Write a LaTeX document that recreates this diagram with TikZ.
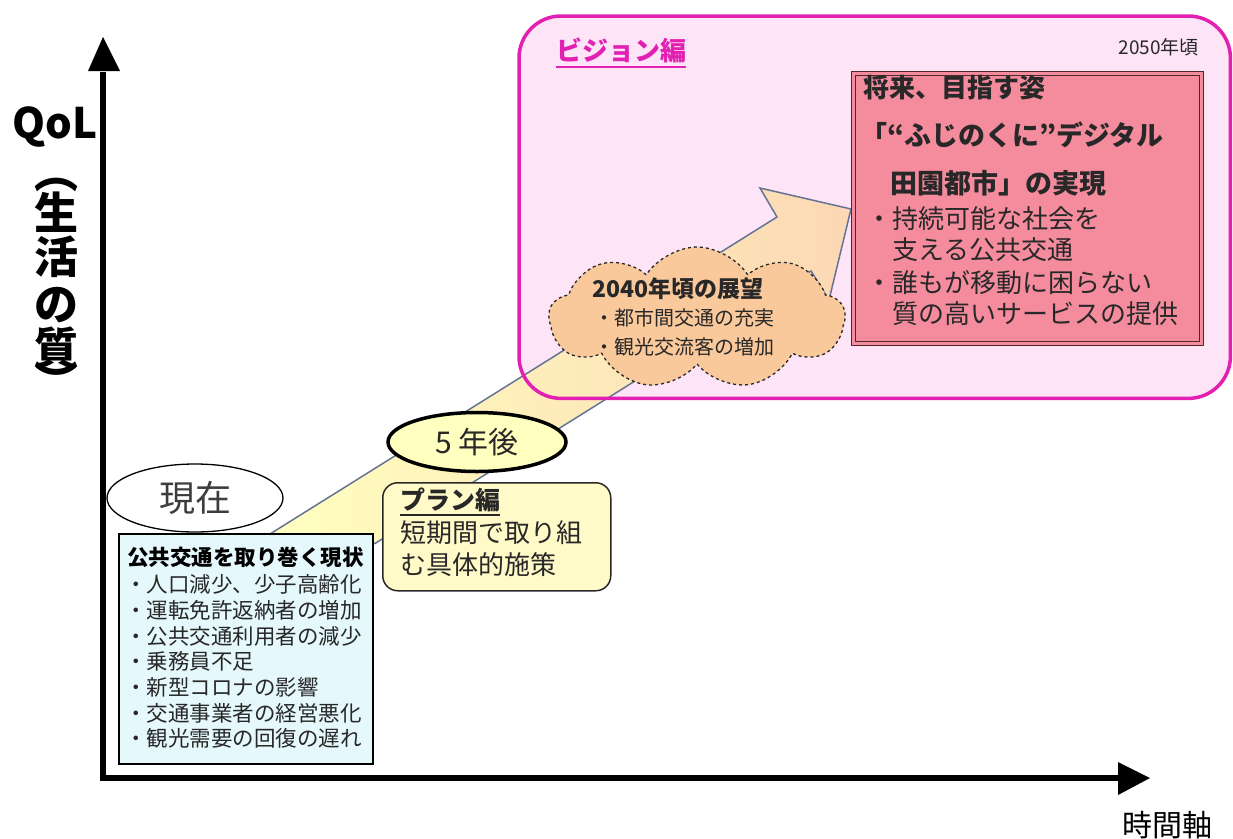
\documentclass[tikz,border=0pt]{standalone}
\usepackage{fontspec}
\setmainfont{Noto Sans CJK JP}
\usetikzlibrary{shapes.symbols,shapes.geometric}
\definecolor{magentaB}{RGB}{226,32,178}
\definecolor{visfill}{RGB}{253,229,247}
\definecolor{redfill}{RGB}{244,140,158}
\definecolor{redline}{RGB}{80,40,45}
\definecolor{bluefill}{RGB}{229,248,252}
\definecolor{planfill}{RGB}{255,250,200}
\definecolor{cloudfill}{RGB}{250,201,155}
\definecolor{bandlow}{RGB}{255,255,192}
\definecolor{bandhigh}{RGB}{252,216,180}
\definecolor{bandline}{RGB}{100,115,150}
\definecolor{txtgray}{RGB}{40,40,40}
\newcommand\fsz[1]{\fontsize{#1}{#1}\selectfont}
\tikzset{
  lbl/.style={anchor=west, inner sep=0pt, text=txtgray},
  vchar/.style={inner sep=0pt, font=\bfseries\fsz{44}},
}
\begin{document}
\begin{tikzpicture}[x=1pt,y=-1pt]
\useasboundingbox (0,0) rectangle (1233,838);

% vision area
\node[fill=visfill, rounded corners=42pt, minimum width=711pt, minimum height=382pt,
      anchor=north west, inner sep=0pt] (vis) at (519,16) {};

% big arrow band
\coordinate (bLL) at (270,534);
\coordinate (bLR) at (375,543.5);
\coordinate (nU) at (777,217);
\coordinate (barbU) at (760,188);
\coordinate (tip) at (851,209);
\coordinate (barbL) at (829,300);
\coordinate (nL) at (811,271);
\shadedraw[left color=bandlow, right color=bandhigh, draw=bandline, line width=1.5pt]
  (bLL) -- (nU) -- (barbU) -- (tip) -- (barbL) -- (nL) -- (bLR) -- cycle;

\draw[magentaB, line width=3.5pt, rounded corners=42pt] (vis.north west) rectangle (vis.south east);

\node[lbl, font=\bfseries\fsz{26}, text=magentaB] (vtitle) at (556,50) {ビジョン編};
\draw[magentaB, line width=1.8pt] ([yshift=-4pt]vtitle.south west) -- ([yshift=-4pt]vtitle.south east);
\node[anchor=east, inner sep=0pt, font=\fsz{19}, text=txtgray] (y2050) at (1199,47) {2050年頃};

% cloud
\node[cloud, cloud puffs=9, cloud puff arc=115, cloud ignores aspect, minimum width=296pt,
      minimum height=142pt, fill=cloudfill, draw=txtgray, dashed, line width=1.3pt] (cl) at (697,318) {};
\node[lbl, font=\bfseries\fsz{23}] (ct) at (592,289) {2040年頃の展望};
\node[lbl, font=\fsz{20}] (c1) at (594,318) {・都市間交通の充実};
\node[lbl, font=\fsz{20}] (c2) at (594,347) {・観光交流客の増加};

% goal box
\node[fill=redfill, draw=redline, double=redfill, double distance=2.5pt, line width=1.2pt,
      minimum width=348pt, minimum height=270pt, anchor=north west, inner sep=0pt] (goal) at (853,73) {};
\node[lbl, font=\bfseries\fsz{26}] (g1) at (863,88) {将来、目指す姿};
\node[lbl, font=\bfseries\fsz{27}] (g2) at (860,135) {「“ふじのくに”デジタル};
\node[lbl, font=\bfseries\fsz{27}] (g3) at (890,183) {田園都市」の実現};
\node[lbl, font=\fsz{26}] (g4) at (866,219) {・持続可能な社会を};
\node[lbl, font=\fsz{26}] (g5) at (892,250) {支える公共交通};
\node[lbl, font=\fsz{26}] (g6) at (866,283) {・誰もが移動に困らない};
\node[lbl, font=\fsz{26}] (g7) at (892,314) {質の高いサービスの提供};

% axes
\coordinate (O) at (103,778);
\coordinate (Ytop) at (103,72);
\coordinate (Xend) at (1120,778);
\draw[line width=6.5pt, line join=miter] (Ytop) -- (O) -- (Xend);
\fill (88,71) -- (103,37) -- (120,71) -- cycle;
\fill (1118,762) -- (1150,778) -- (1118,795) -- cycle;
\node[anchor=east, inner sep=0pt, font=\bfseries\fsz{42}] (qol) at (98,127) {QoL};
\node[vchar] (p1) at (56,184.5) {︵};
\node[vchar] (v1) at (56,212) {生};
\node[vchar] (v2) at (56,257) {活};
\node[vchar] (v3) at (56,305) {の};
\node[vchar] (v4) at (56,348) {質};
\node[vchar] (p2) at (56,380.5) {︶};
\node[inner sep=0pt, font=\fsz{30}] (tj) at (1167,825) {時間軸};

% milestones
\node[ellipse, draw=black, line width=1.3pt, fill=white, minimum width=176pt, minimum height=68pt,
      inner sep=0pt, font=\fsz{36}, text=txtgray!90] (genzai) at (195,498) {現在};
\node[ellipse, draw=black, line width=3.5pt, fill=bandlow, minimum width=178pt, minimum height=59pt,
      inner sep=0pt, font=\fsz{30}, text=txtgray] (five) at (477,442) {5 年後};

% current situation box
\node[fill=bluefill, draw=black, line width=2pt, minimum width=254pt, minimum height=230pt,
      anchor=north west, inner sep=0pt] (now) at (118,533) {};
\node[lbl, font=\bfseries\fsz{21.5}, text=black] (n0) at (127,557) {公共交通を取り巻く現状};
\node[lbl, font=\fsz{21.5}] (n1) at (125,584) {・人口減少、少子高齢化};
\node[lbl, font=\fsz{21.5}] (n2) at (125,610) {・運転免許返納者の増加};
\node[lbl, font=\fsz{21.5}] (n3) at (125,636) {・公共交通利用者の減少};
\node[lbl, font=\fsz{21.5}] (n4) at (125,661) {・乗務員不足};
\node[lbl, font=\fsz{21.5}] (n5) at (125,687) {・新型コロナの影響};
\node[lbl, font=\fsz{21.5}] (n6) at (125,713) {・交通事業者の経営悪化};
\node[lbl, font=\fsz{21.5}] (n7) at (125,738) {・観光需要の回復の遅れ};

% plan box
\node[fill=planfill, draw=txtgray, line width=1.5pt, rounded corners=15pt, minimum width=228pt,
      minimum height=108pt, anchor=north west, inner sep=0pt] (plan) at (382,482) {};
\node[lbl, font=\bfseries\fsz{25}] (pl) at (400,500) {プラン編};
\draw[txtgray, line width=1.8pt] ([yshift=-3pt]pl.south west) -- ([yshift=-3pt]pl.south east);
\node[lbl, font=\fsz{26}] (p3) at (400,533) {短期間で取り組};
\node[lbl, font=\fsz{26}] (p4) at (400,565) {む具体的施策};
\end{tikzpicture}
\end{document}
